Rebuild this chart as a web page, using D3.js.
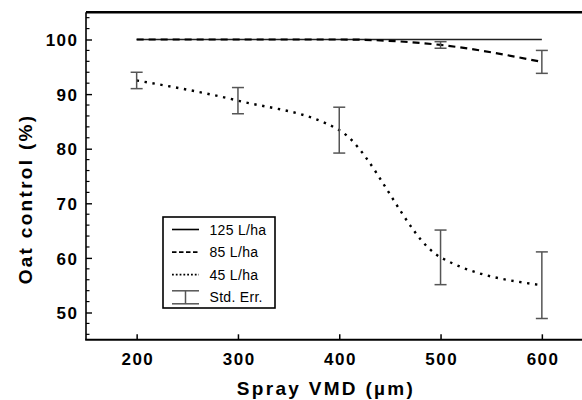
<!DOCTYPE html>
<html>
<head>
<meta charset="utf-8">
<script src="https://cdn.jsdelivr.net/npm/d3@7"></script>
<style>
  body { margin: 0; background: #fff; }
  text { font-family: "Liberation Sans", Arial, sans-serif; }
</style>
</head>
<body>
<script>
// chart data
var vmd = [200, 300, 400, 500, 600];
var control125 = [100, 100, 100, 100, 100];
var control85 = [100, 100, 100, 99.0, 95.9];
var err85 = [0, 0, 0, 0.6, 2.1];
var control45 = [92.5, 88.8, 83.4, 60.1, 55.0];
var err45 = [1.5, 2.4, 4.2, 5.0, 6.1];
var xTicks = [200, 300, 400, 500, 600];
var yTicks = [50, 60, 70, 80, 90, 100];
var legendLabels = ["125 L/ha", "85 L/ha", "45 L/ha", "Std. Err."];

function main() {
    var width = 582,
        height = 400;

    var svg = d3.select("body")
        .append("svg")
        .attr("width", width)
        .attr("height", height);

    var x = d3.scaleLinear().domain([150, 650]).range([86, 592.5]);
    var y = d3.scaleLinear().domain([45, 105]).range([339.8, 12.2]);

    var left = x.range()[0],
        bottom = y.range()[0],
        top = y.range()[1];

    // minor y ticks every 2
    var minorY = d3.range(46, 105, 2).filter(function (d) { return d % 10 != 0; });
    svg.selectAll(".minor")
        .data(minorY)
        .enter().append("line")
        .attr("x1", left).attr("x2", left + 3.5)
        .attr("y1", function (d) { return y(d); })
        .attr("y2", function (d) { return y(d); })
        .attr("stroke", "#000").attr("stroke-width", 1.2);

    // y axis
    var yAxis = svg.append("g")
        .attr("transform", "translate(" + left + ",0)")
        .call(d3.axisRight(y).tickValues(yTicks).tickSize(6).tickFormat(d3.format("d")));
    yAxis.select(".domain").remove();
    yAxis.selectAll(".tick line").attr("stroke-width", 1.4);
    yAxis.selectAll(".tick text")
        .attr("x", -7.5)
        .attr("dy", "0.36em")
        .attr("text-anchor", "end")
        .style("font-size", "17px")
        .style("font-weight", "bold")
        .style("letter-spacing", "1.5px");

    // x axis
    var xAxis = svg.append("g")
        .attr("transform", "translate(0," + bottom + ")")
        .call(d3.axisTop(x).tickValues(xTicks).tickSize(5.5).tickFormat(d3.format("d")));
    xAxis.select(".domain").remove();
    xAxis.selectAll(".tick line").attr("stroke-width", 1.5);
    xAxis.selectAll(".tick text")
        .attr("y", 25)
        .attr("dy", 0)
        .attr("dx", "0.75px")
        .style("font-size", "17px")
        .style("font-weight", "bold")
        .style("letter-spacing", "1.5px");

    // frame lines
    svg.append("line")
        .attr("x1", left).attr("x2", width)
        .attr("y1", top).attr("y2", top)
        .attr("stroke", "#000").attr("stroke-width", 2.6);
    svg.append("line")
        .attr("x1", left).attr("x2", left)
        .attr("y1", top).attr("y2", bottom)
        .attr("stroke", "#000").attr("stroke-width", 1.6);
    svg.append("line")
        .attr("x1", left - 0.8).attr("x2", width)
        .attr("y1", bottom).attr("y2", bottom)
        .attr("stroke", "#000").attr("stroke-width", 2);

    // lines
    var line = d3.line()
        .x(function (d, i) { return x(vmd[i]); })
        .y(function (d) { return y(d); })
        .curve(d3.curveMonotoneX);

    var series = [
        { vals: control125, dash: null, w: 1.6, col: "#222" },
        { vals: control85, dash: "7,5", w: 2.2, col: "#000" },
        { vals: control45, dash: "2.4,5.6", w: 2.4, col: "#000" }
    ];
    series.forEach(function (s) {
        svg.append("path")
            .datum(s.vals)
            .attr("d", line)
            .attr("fill", "none")
            .attr("stroke", s.col)
            .attr("stroke-width", s.w)
            .attr("stroke-dasharray", s.dash);
    });

    // error bars
    var bars = [];
    vmd.forEach(function (v, i) {
        if (err85[i] > 0) bars.push([v, control85[i], err85[i]]);
        if (err45[i] > 0) bars.push([v, control45[i], err45[i]]);
    });
    var eb = svg.selectAll(".err")
        .data(bars)
        .enter().append("g")
        .attr("stroke", "#555")
        .attr("stroke-width", 1.5);
    eb.append("line")
        .attr("x1", function (d) { return x(d[0]); })
        .attr("x2", function (d) { return x(d[0]); })
        .attr("y1", function (d) { return y(d[1] + d[2]); })
        .attr("y2", function (d) { return y(d[1] - d[2]); });
    [1, -1].forEach(function (sgn) {
        eb.append("line")
            .attr("x1", function (d) { return x(d[0]) - 6; })
            .attr("x2", function (d) { return x(d[0]) + 6; })
            .attr("y1", function (d) { return y(d[1] + sgn * d[2]); })
            .attr("y2", function (d) { return y(d[1] + sgn * d[2]); });
    });

    // legend
    var lg = svg.append("g");
    lg.append("rect")
        .attr("x", 163).attr("y", 217)
        .attr("width", 112).attr("height", 91)
        .attr("fill", "#fff")
        .attr("stroke", "#000").attr("stroke-width", 1.6);
    var rowY = function (i) { return 229.5 + i * 22.6; };
    legendLabels.forEach(function (lab, i) {
        var cy = rowY(i);
        if (i < 3) {
            lg.append("line")
                .attr("x1", 172).attr("x2", 199)
                .attr("y1", cy).attr("y2", cy)
                .attr("stroke", "#000")
                .attr("stroke-width", i == 0 ? 1.6 : 1.8)
                .attr("stroke-dasharray", i == 1 ? "4.5,2.5" : i == 2 ? "1.8,2" : null);
        } else {
            var g = lg.append("g").attr("stroke", "#555").attr("stroke-width", 1.5);
            g.append("line").attr("x1", 172).attr("x2", 199).attr("y1", cy - 6.5).attr("y2", cy - 6.5);
            g.append("line").attr("x1", 172).attr("x2", 199).attr("y1", cy + 6.5).attr("y2", cy + 6.5);
            g.append("line").attr("x1", 185.5).attr("x2", 185.5).attr("y1", cy - 6.5).attr("y2", cy + 6.5);
        }
        lg.append("text")
            .attr("x", 209.5)
            .attr("y", cy + 5)
            .style("font-size", "14px")
            .style("letter-spacing", "0.3px")
            .text(lab);
    });

    // axis titles
    svg.append("text")
        .attr("x", 326)
        .attr("y", 394.5)
        .attr("text-anchor", "middle")
        .style("font-size", "19px")
        .style("font-weight", "bold")
        .style("letter-spacing", "2.3px")
        .text("Spray VMD (\u00b5m)");
    svg.append("text")
        .attr("transform", "translate(32,199) rotate(-90)")
        .attr("text-anchor", "middle")
        .style("font-size", "19px")
        .style("font-weight", "bold")
        .style("letter-spacing", "2.3px")
        .text("Oat control (%)");
}

window.onload = main;
</script>
</body>
</html>
